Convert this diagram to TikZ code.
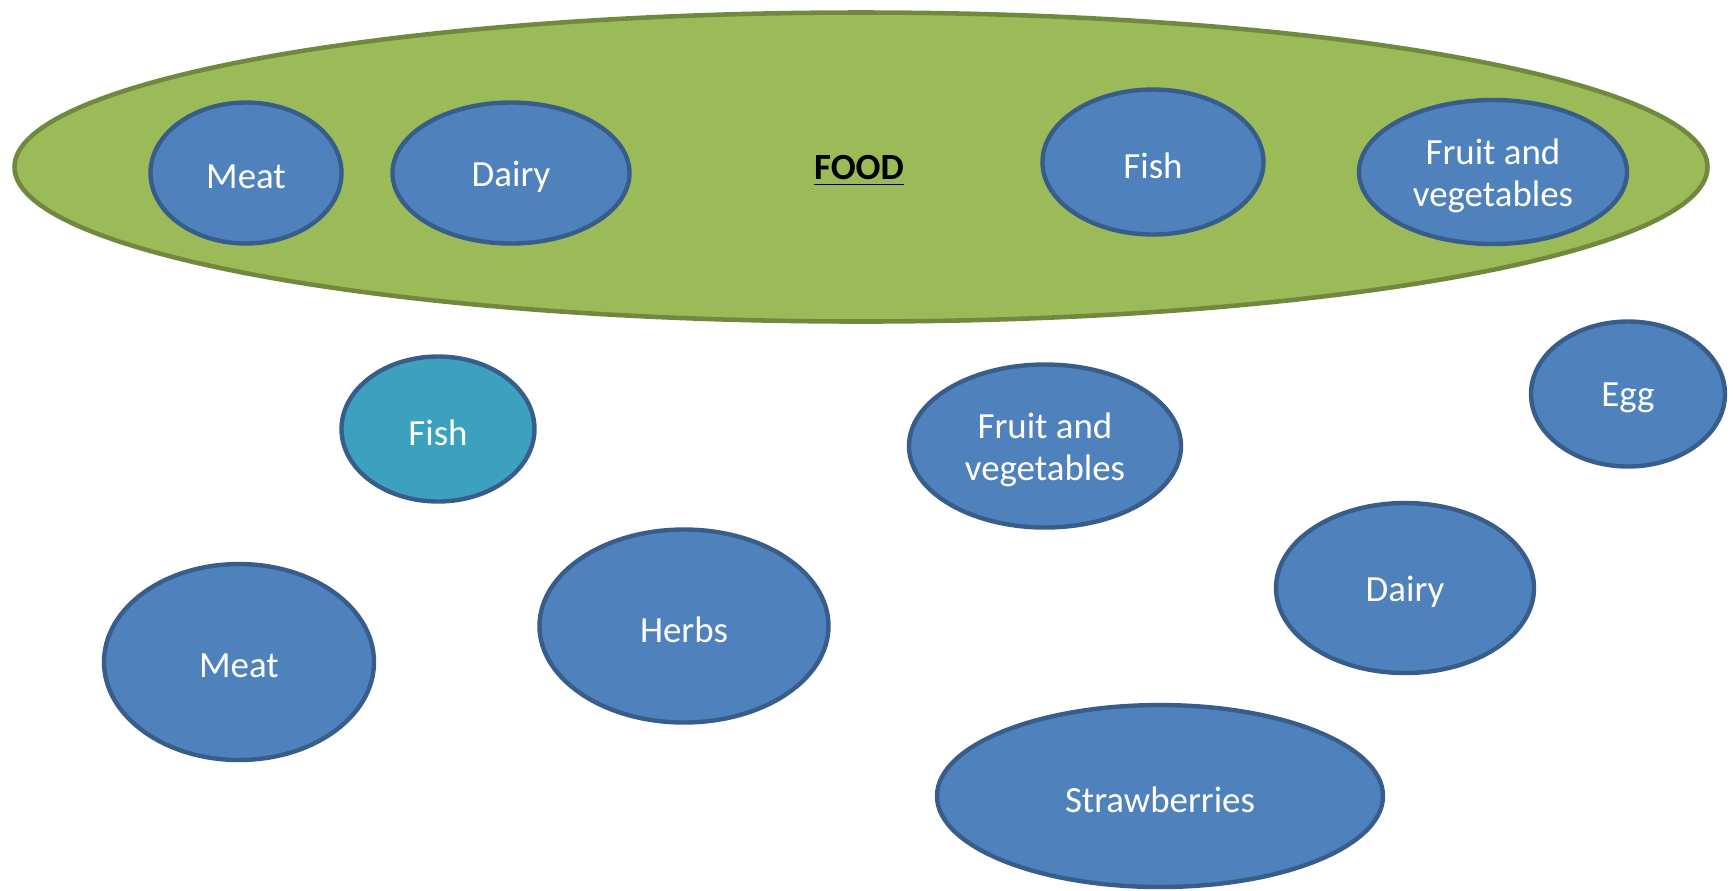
\documentclass[tikz,border=0pt]{standalone}
\usepackage{fontspec}
\setmainfont{Carlito}
\usetikzlibrary{shapes.geometric, positioning}
\definecolor{setGreen}{HTML}{9BBB59}
\definecolor{setGreenDark}{HTML}{71893F}
\definecolor{itemBlue}{HTML}{4F81BD}
\definecolor{itemBlueDark}{HTML}{385D8A}
\definecolor{itemTeal}{HTML}{3CA1BE}
\tikzset{
    foodSet/.style={ellipse, draw=setGreenDark, fill=setGreen, line width=1.3pt, inner sep=0pt},
    foodItem/.style={ellipse, draw=itemBlueDark, fill=itemBlue, line width=1.25pt, inner sep=0pt},
    fishItem/.style={foodItem, fill=itemTeal},
    itemText/.style={text=white, align=center, font=\fontsize{10.5}{12}\selectfont},
    setLabel/.style={font=\fontsize{10.5}{12}\selectfont\bfseries},
}
\newcommand{\drawItem}[6][foodItem]{
    \node[#1, minimum width=#5mm, minimum height=#6mm] (#2) at (#3) {};
    \node[itemText] (#2Text) at ([yshift=-0.4mm]#2.center) {#4};
}

\begin{document}
\begin{tikzpicture}[x=0.1mm, y=-0.1mm]
    \useasboundingbox (0,0) rectangle (1733,890);

    % 1. the FOOD set
    \node[foodSet, minimum width=169.3mm, minimum height=30.9mm] (food) at (861,167) {};
    \node[setLabel] (foodLabel) at (859,171) {\underline{FOOD}};

    % 2. items inside the set
    \drawItem{inMeat}{246,173}{Meat}{19.1}{14.1}
    \drawItem{inDairy}{511,173}{Dairy}{23.7}{14.1}
    \drawItem{inFish}{1153,162}{Fish}{22.1}{14.5}
    \drawItem{inFruit}{1493,172}{Fruit and\\vegetables}{26.8}{14.4}

    % 3. items outside the set
    \drawItem[fishItem]{outFish}{438,429}{Fish}{19.3}{14.5}
    \drawItem{outMeat}{239,662}{Meat}{27.0}{19.6}
    \drawItem{outHerbs}{684,626}{Herbs}{28.9}{19.3}
    \drawItem{outFruit}{1045,446}{Fruit and\\vegetables}{27.2}{16.3}
    \drawItem{outEgg}{1628,394}{Egg}{19.4}{14.5}
    \drawItem{outDairy}{1405,588}{Dairy}{25.8}{17.0}
    \drawItem{outStraw}{1160,796}{Strawberries}{44.6}{18.2}

\end{tikzpicture}
\end{document}
